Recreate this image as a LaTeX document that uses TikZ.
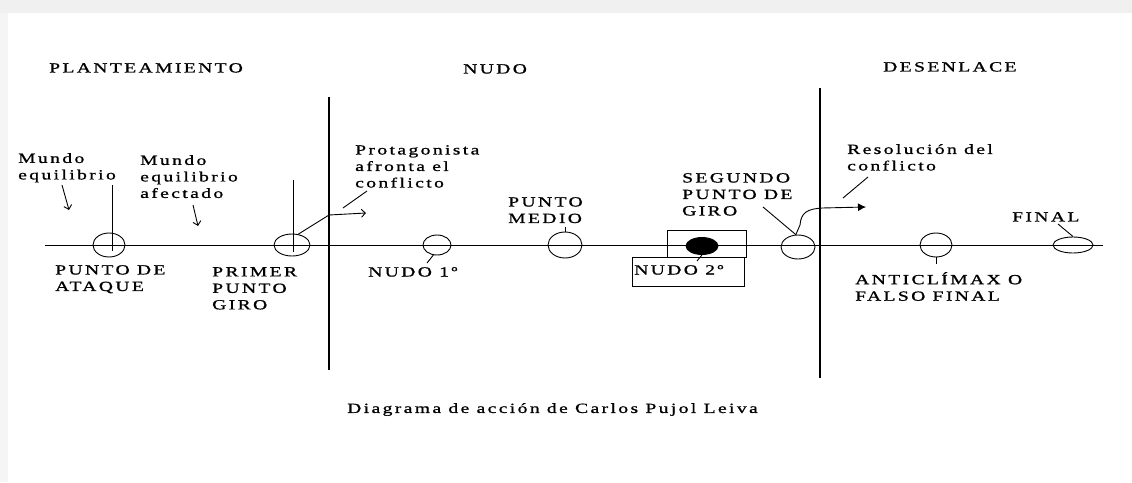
\documentclass[tikz,border=0pt]{standalone}
\usepackage{fontspec}
\setmainfont{Liberation Serif}[FakeStretch=1.4,LetterSpace=17,FakeBold=1]
\usetikzlibrary{arrows.meta}
\usetikzlibrary{shapes.geometric}

\tikzset{
  lbl/.style={anchor=north west,inner sep=0pt,align=left,font=\fontsize{14}{16.5}\selectfont},
  hito/.style={draw,ellipse,inner sep=0pt,line width=0.9pt},
  linea/.style={line width=0.9pt},
  corte/.style={line width=1.8pt},
  flecha/.style={linea,-{Straight Barb[length=4pt,width=8pt]}},
}

\begin{document}
\begin{tikzpicture}[x=1pt,y=-1pt]
    \useasboundingbox (0,0) rectangle (1132,482);
    \fill[black!6] (0,0) rectangle (1132,13);
    \fill[black!4] (0,13) rectangle (8,482);
    % linea de accion y cortes
    \coordinate (ini) at (45,245);
    \coordinate (fin) at (1103,245);
    \draw[linea] (ini) -- (fin);
    \draw[corte] (329,97) -- (329,370);
    \draw[corte] (820,88) -- (820,378);
    % actos
    \node[lbl] (plant) at (49,63) {PLANTEAMIENTO};
    \node[lbl] (nudo) at (463,64) {NUDO};
    \node[lbl] (desen) at (883,62) {DESENLACE};
    % hitos
    \node[hito,minimum width=32,minimum height=24] (ataque) at (109,245) {};
    \node[hito,minimum width=36,minimum height=22] (primer) at (292,245) {};
    \node[hito,minimum width=28,minimum height=20] (nudoA) at (437,245) {};
    \node[hito,minimum width=34,minimum height=26] (medio) at (565,245) {};
    \node[hito,fill=black,minimum width=32,minimum height=17] (nudoB) at (702,246) {};
    \node[hito,minimum width=34,minimum height=24] (segundo) at (798,247) {};
    \node[hito,minimum width=32,minimum height=24] (anti) at (936,245) {};
    \node[hito,minimum width=40,minimum height=16] (final) at (1073,245) {};
    \draw[linea] (112,185) -- (112,251);
    \draw[linea] (293,180) -- (293,252);
    \draw[linea] (667,230) rectangle (746,257);
    \draw[linea] (632,257) rectangle (744,286);
    % textos
    \node[lbl] (mundo) at (18,153) {Mundo\\equilibrio};
    \node[lbl] (afect) at (140,155) {Mundo\\equilibrio\\afectado};
    \node[lbl] (tAtaque) at (55,265) {PUNTO DE\\ATAQUE};
    \node[lbl] (tPrimer) at (212,267) {PRIMER\\PUNTO\\GIRO};
    \node[lbl] (protag) at (355,145) {Protagonista\\afronta el\\conflicto};
    \node[lbl] (tNudoA) at (368,267) {NUDO 1º};
    \node[lbl] (tMedio) at (508,197) {PUNTO\\MEDIO};
    \node[lbl] (tNudoB) at (634,265) {NUDO 2º};
    \node[lbl] (tSegundo) at (682,173) {SEGUNDO\\PUNTO DE\\GIRO};
    \node[lbl] (resol) at (847,144) {Resolución del\\conflicto};
    \node[lbl] (tAnti) at (855,272) {ANTICLÍMAX O\\FALSO FINAL};
    \node[lbl] (tFinal) at (1012,212) {FINAL};
    \node[lbl] (caption) at (347,403) {Diagrama de acción de Carlos Pujol Leiva};
    % flechas y guias
    \coordinate (m1) at (62,185);
    \coordinate (m2) at (193,205);
    \draw[flecha] (m1) -- (69,210);
    \draw[flecha] (m2) -- (198,226);
    \draw[flecha] (primer.60) -- (329,215) -- (366,213);
    \draw[linea] (343,208) -- (367,191);
    \draw[linea] (nudoA.250) -- (427,263);
    \draw[linea] (medio.north) -- (565,227);
    \draw[linea] (nudoB.south) -- (697,261);
    \draw[linea] (763,207) -- (segundo.100);
    \draw[linea,-{Latex[length=8pt,width=8pt]}] (segundo.100) -- (800,225)
      .. controls (801,212) and (808,209) .. (822,208) -- (866,207);
    \draw[linea] (843,198) -- (868,177);
    \draw[linea] (anti.south) -- (936,264);
    \draw[linea] (1058,224) -- (final.north);
\end{tikzpicture}
\end{document}
